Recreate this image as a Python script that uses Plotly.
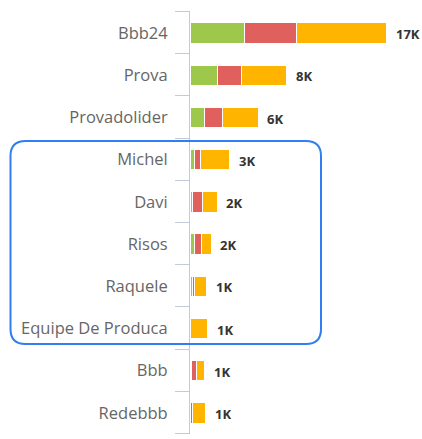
import plotly.graph_objects as go

# ---------------------------------------------------------------------------
# Data (thousands)
# ---------------------------------------------------------------------------
categories = ["Bbb24", "Prova", "Provadolider", "Michel", "Davi", "Risos",
              "Raquele", "Equipe De Produca", "Bbb", "Redebbb"]
green_vals = [4.7, 2.35, 1.3, 0.43, 0.2, 0.43, 0.22, 0.0, 0.1, 0.08]
red_vals = [4.6, 2.17, 1.55, 0.52, 0.85, 0.58, 0.2, 0.0, 0.46, 0.12]
orange_vals = [7.8, 3.9, 3.1, 2.5, 1.3, 0.84, 1.05, 1.55, 0.72, 1.15]
value_labels = ["17K", "8K", "6K", "3K", "2K", "2K", "1K", "1K", "1K", "1K"]

GREEN = "#9DC84B"
RED = "#E0605D"
ORANGE = "#FFB400"
LABEL_GREY = "#666666"
VALUE_DARK = "#333333"
AXIS_GREY = "#C3CADC"
HILITE_BLUE = "#2F7FF0"
FONT = "'Open Sans', sans-serif"

W, H = 422, 439
M_L, M_R, M_T, M_B = 190, 0, 12, 5
PX_PER_K = 11.5
PLOT_W = W - M_L - M_R
PLOT_H = H - M_T - M_B

totals = [g + r + o for g, r, o in zip(green_vals, red_vals, orange_vals)]

fig = go.Figure()
for name, vals, color in [("Verde", green_vals, GREEN),
                          ("Vermelho", red_vals, RED),
                          ("Laranja", orange_vals, ORANGE)]:
    fig.add_trace(go.Bar(
        y=categories, x=vals, name=name, orientation="h",
        marker=dict(color=color, line=dict(color="white", width=1)),
        width=0.48, hoverinfo="x+y",
    ))

for cat, tot, lab in zip(categories, totals, value_labels):
    fig.add_annotation(
        x=tot, y=cat, text=lab, showarrow=False,
        xanchor="left", xshift=7, yshift=-1,
        font=dict(family=FONT, size=13, color=VALUE_DARK, weight="bold"),
    )

# short divider ticks at category boundaries, left of the axis
# (snapped to half pixels so the 1px line stays crisp)
n = len(categories)
for i in range(n + 1):
    yb = 1 - (round(i * PLOT_H / n) - 0.5) / PLOT_H
    fig.add_shape(type="line", xref="paper", yref="paper",
                  x0=-15 / PLOT_W, x1=0, y0=yb, y1=yb,
                  line=dict(color=AXIS_GREY, width=1))


# highlight box around Michel..Equipe rows (pixel -> paper)
def px_x(px):
    return (px - M_L) / PLOT_W


def px_y(py):
    return (H - M_B - py) / PLOT_H


x0, x1, y0, y1, rad = 10.5, 321, 141, 344, 15
path = (
    f"M {px_x(x0 + rad)},{px_y(y0)} L {px_x(x1 - rad)},{px_y(y0)} "
    f"Q {px_x(x1)},{px_y(y0)} {px_x(x1)},{px_y(y0 + rad)} "
    f"L {px_x(x1)},{px_y(y1 - rad)} "
    f"Q {px_x(x1)},{px_y(y1)} {px_x(x1 - rad)},{px_y(y1)} "
    f"L {px_x(x0 + rad)},{px_y(y1)} "
    f"Q {px_x(x0)},{px_y(y1)} {px_x(x0)},{px_y(y1 - rad)} "
    f"L {px_x(x0)},{px_y(y0 + rad)} "
    f"Q {px_x(x0)},{px_y(y0)} {px_x(x0 + rad)},{px_y(y0)} Z"
)
fig.add_shape(type="path", path=path, xref="paper", yref="paper",
              line=dict(color=HILITE_BLUE, width=2))

fig.update_layout(
    width=W, height=H,
    barmode="stack",
    showlegend=False,
    plot_bgcolor="white",
    paper_bgcolor="white",
    margin=dict(l=M_L, r=M_R, t=M_T, b=M_B, pad=0),
    font=dict(family=FONT, color=LABEL_GREY),
)
fig.update_xaxes(
    range=[0, PLOT_W / PX_PER_K],
    visible=False, showgrid=False, zeroline=False,
)
fig.update_yaxes(
    categoryorder="array", categoryarray=categories, autorange="reversed",
    showline=True, linecolor=AXIS_GREY, linewidth=1,
    ticks="", ticklabelstandoff=18,
    tickfont=dict(family=FONT, size=16.5, color=LABEL_GREY),
    showgrid=False, zeroline=False,
)

# drop the default 8px body margin so the figure fills the window exactly
fig.write_html("out.html", config={"displayModeBar": False},
               post_script="document.body.style.margin='0';")
